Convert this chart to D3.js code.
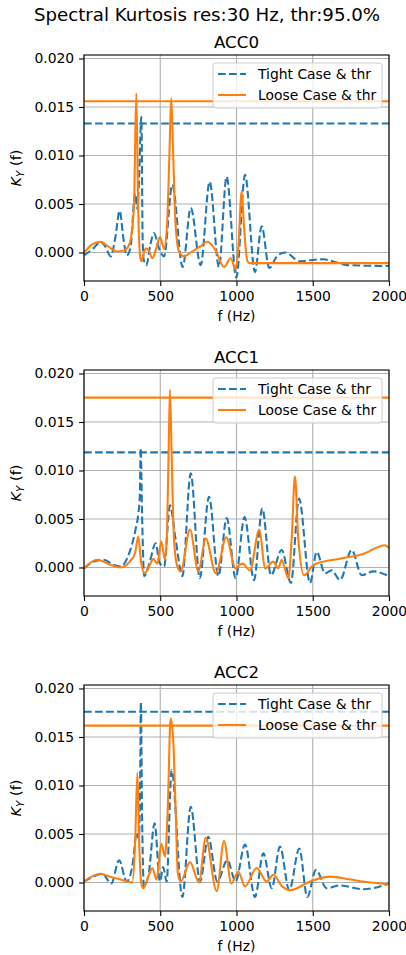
<!DOCTYPE html>
<html>
<head>
<meta charset="utf-8">
<script src="https://cdn.jsdelivr.net/npm/d3@7"></script>
<style>
  body { margin: 0; background: #fff; }
  svg text { font-family: "DejaVu Sans", sans-serif; fill: #000; }
</style>
</head>
<body>
<div id="chart"></div>
<script>
// ---- data ----
var panelNames = ["ACC0", "ACC1", "ACC2"];
var seriesLabels = ["Tight Case & thr", "Loose Case & thr"];
var xTicks = [0, 500, 1000, 1500, 2000];
var yTicks = [0, 0.005, 0.010, 0.015, 0.020];

// thresholds per panel
var thrTight = [0.01330, 0.01187, 0.01761];
var thrLoose = [0.01560, 0.01751, 0.01617];

// [frequency Hz, K_Y(f)]
var acc0Tight = [[0,-0.0003],[60,0.0004],[109,0.0011],[140,0.0006],[175,-0.0004],[205,0.0015],[234,0.0043],[258,0.0015],
  [280,-0.0003],[305,0.0005],[335,0.0061],[350,0.0045],[362,0.0080],[376,0.0140],[385,0.0010],[392,-0.0008],[409,-0.0013],
  [435,0.0008],[459,0.0020],[490,0.0005],[525,-0.0004],[579,0.0070],[647,-0.0015],[700,0.0046],[765,-0.0013],[824,0.0073],
  [885,-0.0015],[935,0.0078],[999,-0.0026],[1056,0.0080],[1121,-0.0020],[1165,0.0027],[1215,-0.0016],[1265,-0.0004],
  [1318,0.0000],[1416,-0.0009],[1480,-0.0008],[1569,-0.0007],[1650,-0.0010],[1722,-0.0013],[2000,-0.0014]];
var acc0Loose = [[0,-0.0001],[50,0.0008],[109,0.0011],[160,0.0006],[218,0.0001],[260,0.0002],[290,0.0006],[310,0.0017],
  [328,0.0050],[343,0.0164],[356,0.0040],[368,-0.0004],[376,-0.0009],[404,0.0004],[425,0.0002],[448,-0.0006],[475,0.0005],
  [498,0.0016],[512,0.0010],[525,0.0004],[545,0.0030],[560,0.0100],[572,0.0159],[585,0.0100],[600,0.0030],[623,0.0001],
  [656,-0.0004],[700,0.0000],[760,0.0006],[809,0.0011],[860,0.0003],[918,-0.0015],[962,-0.0006],[994,-0.0017],[1012,0.0005],
  [1034,0.0063],[1050,0.0025],[1070,-0.0008],[1084,-0.0011],[2000,-0.0011]];

var acc1Tight = [[0,-0.0001],[60,0.0006],[131,0.0008],[190,0.0003],[240,0.0001],[290,0.0012],[339,0.0040],[356,0.0055],
  [366,0.0075],[372,0.0123],[380,0.0060],[395,-0.0009],[430,0.0005],[470,0.0025],[495,0.0005],[525,0.0001],[564,0.0064],
  [600,0.0030],[645,-0.0009],[700,0.0097],[759,-0.0011],[820,0.0073],[881,-0.0009],[936,0.0051],[994,-0.0011],[1053,0.0052],
  [1115,-0.0013],[1169,0.0061],[1226,-0.0008],[1296,0.0018],[1357,-0.0016],[1410,0.0071],[1482,-0.0016],[1526,0.0016],
  [1580,-0.0006],[1624,-0.0003],[1679,-0.0013],[1755,0.0018],[1821,-0.0008],[1897,-0.0004],[2000,-0.0009]];
var acc1Loose = [[0,-0.0001],[87,0.0008],[170,0.0003],[240,0.0000],[300,0.0006],[335,0.0015],[356,0.0032],[375,0.0005],
  [398,-0.0006],[430,0.0002],[455,0.0009],[481,0.0004],[507,0.0027],[531,0.0008],[545,0.0040],[556,0.0130],[564,0.0183],
  [574,0.0120],[590,0.0030],[610,0.0002],[634,-0.0004],[695,0.0039],[750,-0.0004],[798,0.0030],[864,-0.0006],[933,0.0031],
  [994,-0.0001],[1015,0.0002],[1040,0.0004],[1088,-0.0003],[1150,0.0039],[1187,-0.0001],[1241,0.0006],[1274,-0.0001],
  [1296,0.0008],[1340,-0.0011],[1362,0.0030],[1383,0.0094],[1405,0.0030],[1443,-0.0008],[1500,0.0002],[1526,0.0004],
  [1679,0.0009],[1831,0.0014],[1974,0.0023],[2000,0.0020]];

var acc2Tight = [[0,0.0001],[60,0.0006],[120,0.0009],[179,-0.0001],[230,0.0023],[280,0.0001],[320,0.0020],[345,0.0051],
  [360,0.0045],[368,0.0100],[373,0.0186],[380,0.0080],[393,-0.0004],[425,0.0010],[463,0.0061],[498,0.0001],[519,0.0016],
  [542,0.0001],[574,0.0116],[645,-0.0015],[700,0.0078],[761,0.0001],[815,0.0047],[874,0.0001],[940,0.0023],[994,0.0001],
  [1056,0.0039],[1121,-0.0015],[1176,0.0030],[1231,-0.0006],[1285,0.0037],[1346,-0.0008],[1412,0.0035],[1464,-0.0015],
  [1521,0.0013],[1591,-0.0006],[1679,-0.0003],[1831,-0.0007],[2000,-0.0001]];
var acc2Loose = [[0,0.0001],[50,0.0006],[109,0.0009],[170,0.0006],[240,0.0003],[317,0.0000],[335,0.0040],[350,0.0113],
  [362,0.0040],[375,0.0000],[389,-0.0006],[420,0.0005],[448,0.0015],[476,0.0003],[507,0.0040],[531,0.0027],[550,0.0080],
  [568,0.0169],[584,0.0150],[600,0.0080],[615,0.0010],[634,0.0001],[695,0.0021],[754,0.0000],[798,0.0046],[870,-0.0009],
  [918,0.0043],[966,-0.0001],[1012,0.0011],[1056,-0.0004],[1132,0.0015],[1198,0.0001],[1241,0.0008],[1300,-0.0004],
  [1351,-0.0008],[1482,0.0001],[1613,0.0006],[1750,0.0003],[1831,0.0001],[2000,-0.0002]];

var tightSeries = [acc0Tight, acc1Tight, acc2Tight];
var looseSeries = [acc0Loose, acc1Loose, acc2Loose];

// ---- layout ----
var W = 406, H = 955;
var margin = {left: 84, top: 55};
var width = 305, height = 226, step = 315;
var blue = "#1f77b4", orange = "#ff7f0e";
var lw = 2.08;

var x = d3.scaleLinear().domain([0, 2000]).range([0, width]);
var y = d3.scaleLinear().domain([-0.00294, 0.02036]).range([height, 0]);

var valueline = d3.line()
    .x(d => x(d[0]))
    .y(d => y(d[1]))
    .curve(d3.curveMonotoneX);

var svg = d3.select("#chart").append("svg")
    .attr("width", W)
    .attr("height", H);

// figure title
svg.append("text")
    .attr("x", 207).attr("y", 21)
    .attr("text-anchor", "middle")
    .style("font-size", "18.2px")
    .text("Spectral Kurtosis res:30 Hz, thr:95.0%");

panelNames.forEach(function(name, i) {
  var top = margin.top + i * step;
  var g = svg.append("g")
      .attr("transform", "translate(" + margin.left + "," + top + ")");

  // grid
  g.append("g").selectAll("line").data(xTicks).enter().append("line")
      .attr("x1", d => x(d)).attr("x2", d => x(d))
      .attr("y1", 0).attr("y2", height)
      .attr("stroke", "#b0b0b0").attr("stroke-width", 1.1);
  g.append("g").selectAll("line").data(yTicks).enter().append("line")
      .attr("x1", 0).attr("x2", width)
      .attr("y1", d => y(d)).attr("y2", d => y(d))
      .attr("stroke", "#b0b0b0").attr("stroke-width", 1.1);

  var plot = g.append("g");
  // tight case + threshold
  plot.append("path").datum(tightSeries[i])
      .attr("d", valueline)
      .attr("fill", "none").attr("stroke", blue).attr("stroke-width", lw)
      .attr("stroke-dasharray", "7.7,3.33");
  plot.append("line")
      .attr("x1", 0).attr("x2", width)
      .attr("y1", y(thrTight[i])).attr("y2", y(thrTight[i]))
      .attr("stroke", blue).attr("stroke-width", lw)
      .attr("stroke-dasharray", "7.7,3.33");
  // loose case + threshold
  plot.append("path").datum(looseSeries[i])
      .attr("d", valueline)
      .attr("fill", "none").attr("stroke", orange).attr("stroke-width", lw)
      .attr("stroke-linejoin", "round");
  plot.append("line")
      .attr("x1", 0).attr("x2", width)
      .attr("y1", y(thrLoose[i])).attr("y2", y(thrLoose[i]))
      .attr("stroke", orange).attr("stroke-width", lw);

  // axes
  var ax = g.append("g")
      .attr("transform", "translate(0," + height + ")")
      .call(d3.axisBottom(x).tickValues(xTicks).tickFormat(d3.format("d"))
            .tickSize(4.9).tickPadding(4.9).tickSizeOuter(0));
  var ay = g.append("g")
      .call(d3.axisLeft(y).tickValues(yTicks).tickFormat(d3.format(".3f"))
            .tickSize(4.9).tickPadding(4.9).tickSizeOuter(0));
  [ax, ay].forEach(function(a) {
    a.attr("font-family", null).attr("font-size", null);
    a.select(".domain").remove();
    a.selectAll("line").attr("stroke", "#000").attr("stroke-width", 1.1);
    a.selectAll("text").style("font-size", "13.9px");
  });

  // spines
  g.append("rect")
      .attr("width", width).attr("height", height)
      .attr("fill", "none").attr("stroke", "#000").attr("stroke-width", 1.1);

  // titles and labels
  g.append("text")
      .attr("x", width / 2).attr("y", -7)
      .attr("text-anchor", "middle")
      .style("font-size", "16.7px")
      .text(name);
  g.append("text")
      .attr("x", width / 2).attr("y", height + 40)
      .attr("text-anchor", "middle")
      .style("font-size", "13.9px")
      .text("f (Hz)");
  var yl = g.append("text")
      .attr("transform", "translate(-63," + (height / 2) + ") rotate(-90)")
      .attr("text-anchor", "middle")
      .style("font-size", "14.5px");
  yl.append("tspan").style("font-style", "italic").text("K");
  yl.append("tspan").style("font-style", "italic").style("font-size", "10.2px")
      .attr("dy", "2.9").text("Y");
  yl.append("tspan").attr("dy", "-2.9").text(" (f)");

  // legend
  var lg = g.append("g").attr("transform", "translate(129,8)");
  lg.append("rect")
      .attr("width", 169).attr("height", 45).attr("rx", 2.8)
      .attr("fill", "#fff").attr("fill-opacity", 0.8)
      .attr("stroke", "#cccccc").attr("stroke-width", 1);
  seriesLabels.forEach(function(lab, j) {
    var cy = 11 + j * 21;
    lg.append("line")
        .attr("x1", 5).attr("x2", 33).attr("y1", cy).attr("y2", cy)
        .attr("stroke", j === 0 ? blue : orange).attr("stroke-width", lw)
        .attr("stroke-dasharray", j === 0 ? "7.7,3.33" : null);
    lg.append("text")
        .attr("x", 45).attr("y", cy + 5)
        .style("font-size", "13.9px")
        .text(lab);
  });
});
</script>
</body>
</html>
